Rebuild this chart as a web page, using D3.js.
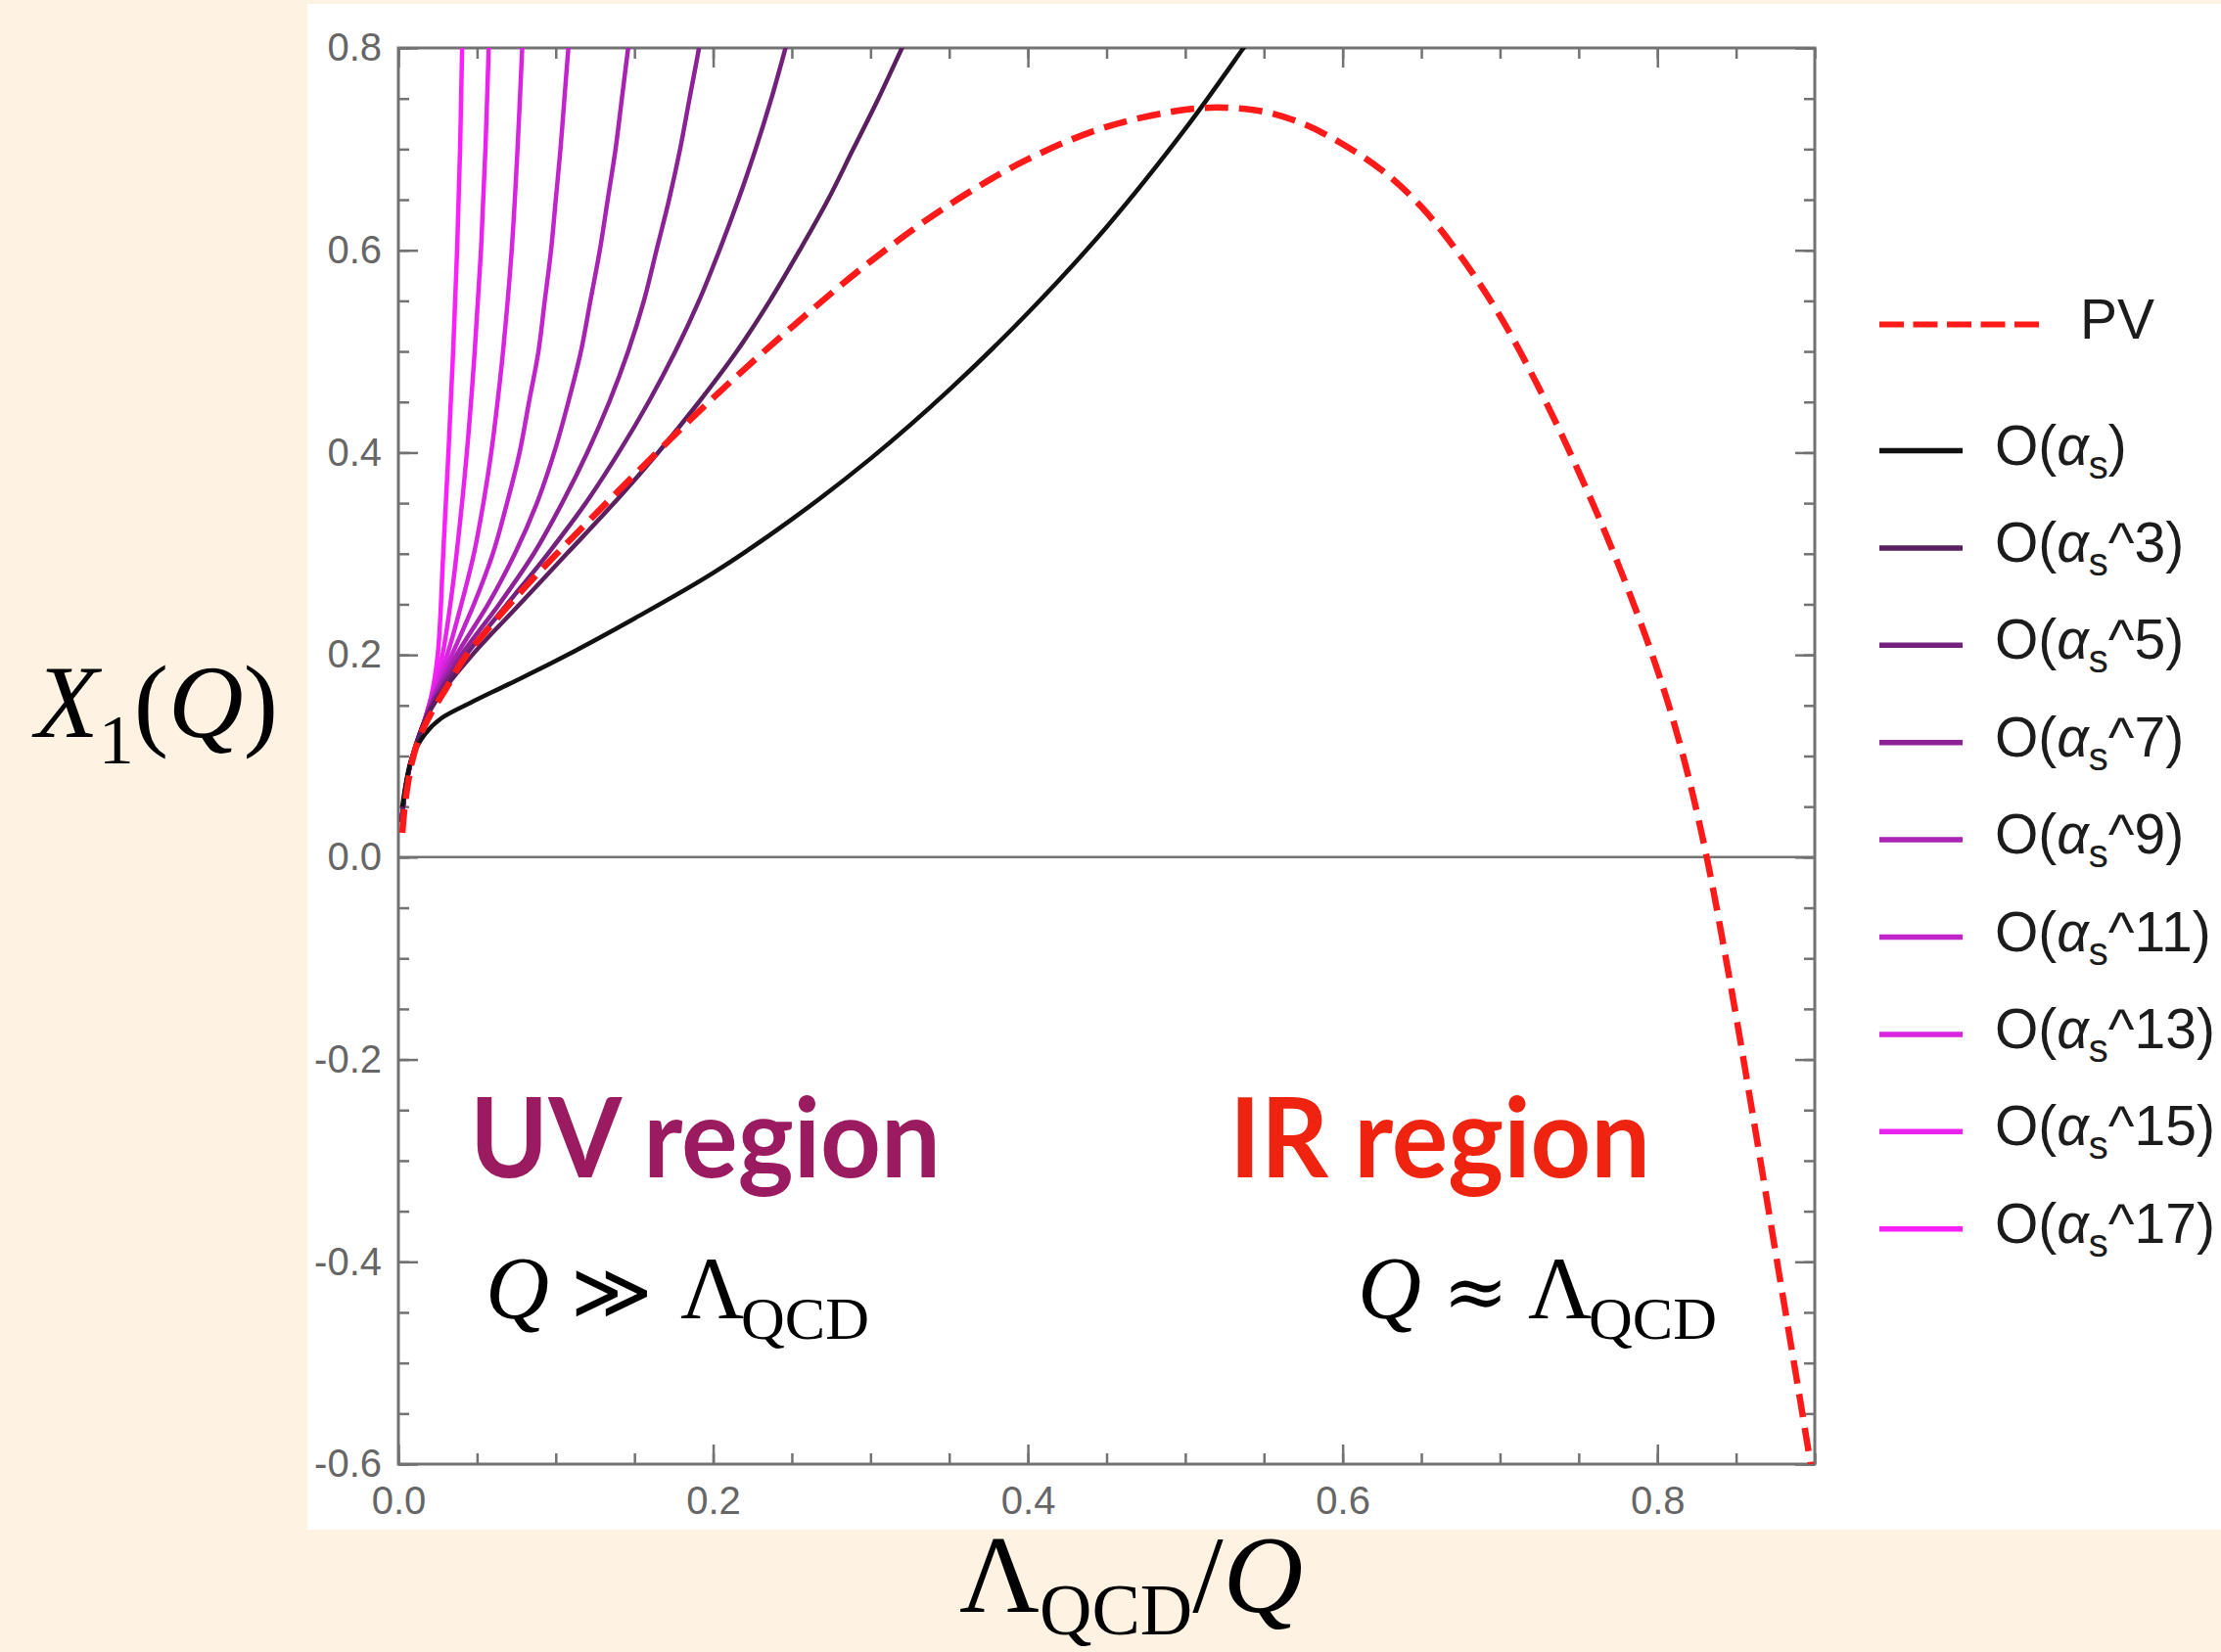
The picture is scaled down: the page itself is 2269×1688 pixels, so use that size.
<!DOCTYPE html>
<html>
<head>
<meta charset="utf-8">
<script src="https://cdn.jsdelivr.net/npm/d3@7"></script>
<style>
body { margin: 0; background: #fef3e2; }
</style>
</head>
<body>
<div id="chart"></div>
<script>
// tick labels
var xTicks = [0, 0.2, 0.4, 0.6, 0.8];
var yTicks = [-0.6, -0.4, -0.2, 0, 0.2, 0.4, 0.6, 0.8];

// perturbative orders shown in the legend
var orders = [1, 3, 5, 7, 9, 11, 13, 15, 17];

// principal value curve, [Lambda/Q, X1]
var pvCurve = [[0.0025, 0.024], [0.004, 0.05], [0.006, 0.072], [0.0086, 0.094], [0.013, 0.117],
    [0.02, 0.14], [0.03, 0.166], [0.0425, 0.198], [0.06, 0.231], [0.08, 0.266], [0.1, 0.299],
    [0.15, 0.378], [0.2, 0.454], [0.25, 0.524], [0.3, 0.589], [0.35, 0.645], [0.4, 0.69],
    [0.45, 0.722], [0.5, 0.739], [0.525, 0.741], [0.55, 0.737], [0.575, 0.725], [0.6, 0.705],
    [0.625, 0.679], [0.65, 0.643], [0.675, 0.594], [0.7, 0.535], [0.725, 0.463], [0.75, 0.381],
    [0.775, 0.29], [0.8, 0.185], [0.815, 0.108], [0.83, 0.01], [0.845, -0.113], [0.86, -0.249],
    [0.875, -0.39], [0.89, -0.53], [0.9, -0.625]];

// truncated series
var order1 = [[0.0025, 0.05], [0.005, 0.075], [0.0086, 0.0986], [0.017, 0.122], [0.027, 0.137],
    [0.045, 0.152], [0.07, 0.171], [0.1, 0.194], [0.15, 0.236], [0.2, 0.281], [0.25, 0.334],
    [0.3, 0.394], [0.35, 0.462], [0.4, 0.538], [0.45, 0.623], [0.5, 0.72], [0.537, 0.8], [0.546, 0.82]];
var order3 = [[0.002, 0.035], [0.004, 0.062], [0.007, 0.088], [0.011, 0.11], [0.016, 0.132], [0.024, 0.155],
    [0.047, 0.2], [0.077, 0.25], [0.107, 0.3], [0.137, 0.35], [0.165, 0.4], [0.191, 0.45], [0.215, 0.5],
    [0.236, 0.55], [0.255, 0.6], [0.273, 0.65], [0.289, 0.7], [0.305, 0.75], [0.32, 0.8], [0.326, 0.82]];
var order5 = [[0.002, 0.035], [0.004, 0.062], [0.007, 0.088], [0.011, 0.11], [0.016, 0.132], [0.023, 0.155],
    [0.043, 0.2], [0.069, 0.25], [0.095, 0.3], [0.119, 0.35], [0.14, 0.4], [0.159, 0.45], [0.176, 0.5],
    [0.191, 0.55], [0.204, 0.6], [0.216, 0.65], [0.227, 0.7], [0.237, 0.75], [0.246, 0.8], [0.2495, 0.82]];
var order7 = [[0.002, 0.035], [0.004, 0.062], [0.007, 0.088], [0.011, 0.11], [0.016, 0.132], [0.023, 0.156],
    [0.04, 0.2], [0.064, 0.25], [0.086, 0.3], [0.104, 0.35], [0.12, 0.4], [0.134, 0.45], [0.146, 0.5],
    [0.156, 0.55], [0.164, 0.6], [0.172, 0.65], [0.179, 0.7], [0.185, 0.75], [0.191, 0.8], [0.193, 0.82]];
var order9 = [[0.002, 0.035], [0.004, 0.062], [0.007, 0.088], [0.011, 0.11], [0.016, 0.132], [0.022, 0.156],
    [0.037, 0.2], [0.057, 0.25], [0.074, 0.3], [0.088, 0.35], [0.099, 0.4], [0.108, 0.45], [0.116, 0.5],
    [0.122, 0.55], [0.128, 0.6], [0.133, 0.65], [0.138, 0.7], [0.142, 0.75], [0.146, 0.8], [0.1475, 0.82]];
var order11 = [[0.002, 0.035], [0.004, 0.062], [0.007, 0.088], [0.011, 0.11], [0.016, 0.132], [0.022, 0.157],
    [0.034, 0.2], [0.048, 0.25], [0.06, 0.3], [0.069, 0.35], [0.077, 0.4], [0.083, 0.45], [0.089, 0.5],
    [0.093, 0.55], [0.097, 0.6], [0.1, 0.65], [0.103, 0.7], [0.1055, 0.75], [0.108, 0.8], [0.109, 0.82]];
var order13 = [[0.002, 0.035], [0.004, 0.062], [0.007, 0.088], [0.011, 0.11], [0.016, 0.132], [0.021, 0.157],
    [0.031, 0.2], [0.04, 0.25], [0.048, 0.3], [0.054, 0.35], [0.059, 0.4], [0.063, 0.45], [0.0665, 0.5],
    [0.072, 0.6], [0.0757, 0.7], [0.0787, 0.8], [0.0795, 0.82]];
var order15 = [[0.002, 0.035], [0.004, 0.062], [0.007, 0.088], [0.011, 0.11], [0.016, 0.132], [0.021, 0.158],
    [0.028, 0.2], [0.033, 0.25], [0.037, 0.3], [0.0435, 0.4], [0.0485, 0.5], [0.0525, 0.6], [0.0553, 0.7],
    [0.0574, 0.8], [0.058, 0.82]];
var order17 = [[0.002, 0.035], [0.004, 0.062], [0.007, 0.088], [0.011, 0.11], [0.016, 0.132], [0.021, 0.16],
    [0.025, 0.2], [0.0285, 0.3], [0.0318, 0.4], [0.0348, 0.5], [0.0373, 0.6], [0.0392, 0.7], [0.0405, 0.8],
    [0.041, 0.82]];

var seriesData = [order1, order3, order5, order7, order9, order11, order13, order15, order17];
var seriesColors = ["#111111", "#5a1f5f", "#74217d", "#8d2297", "#a823b1", "#c224cb", "#d824de", "#ea22ee", "#fb20fb"];

var svg;
var chartGroup;
var xScale;
var yScale;

var margin = {
    top: 49,
    right: 415,
    bottom: 192,
    left: 407
};

var canvas = {
    screenHeight: 1688,
    screenWidth: 2269,
    chartHeight: 0,
    chartWidth: 0
};

var tickColor = "#727272";

function setCanvas() {
    canvas.chartHeight = canvas.screenHeight - margin.top - margin.bottom;
    canvas.chartWidth = canvas.screenWidth - margin.left - margin.right;

    svg = d3.select("#chart").append("svg")
        .attr("width", canvas.screenWidth)
        .attr("height", canvas.screenHeight)
        .style("display", "block");

    // beige page with the white plot panel on it
    svg.append("rect")
        .attr("width", canvas.screenWidth)
        .attr("height", canvas.screenHeight)
        .attr("fill", "#fef3e2");
    svg.append("rect")
        .attr("x", 314)
        .attr("y", 4)
        .attr("width", canvas.screenWidth - 314)
        .attr("height", 1559)
        .attr("fill", "#ffffff");

    chartGroup = svg.append("g")
        .attr("transform", `translate(${margin.left}, ${margin.top})`);

    chartGroup.append("clipPath")
        .attr("id", "plotClip")
        .append("rect")
        .attr("width", canvas.chartWidth)
        .attr("height", canvas.chartHeight);
}

function styleAxis(g) {
    g.select(".domain").remove();
    g.selectAll("line")
        .attr("stroke", tickColor)
        .attr("stroke-width", 2.5);
    g.selectAll("text")
        .attr("fill", "#666666")
        .style("font-family", "'Liberation Sans', Arial, sans-serif")
        .style("font-size", "40px");
}

function setAxis() {
    xScale = d3.scaleLinear()
        .domain([0, 0.9])
        .range([0, canvas.chartWidth]);
    yScale = d3.scaleLinear()
        .domain([-0.6, 0.8])
        .range([canvas.chartHeight, 0]);

    var xMinor = d3.range(0, 0.9001, 0.05);
    var yMinor = d3.range(-0.6, 0.8001, 0.05);
    var fmt = d => d.toFixed(1);

    // zero line
    chartGroup.append("line")
        .attr("x1", 0)
        .attr("x2", canvas.chartWidth)
        .attr("y1", yScale(0))
        .attr("y2", yScale(0))
        .attr("stroke", tickColor)
        .attr("stroke-width", 2.5);

    // bottom
    chartGroup.append("g")
        .attr("transform", `translate(0, ${canvas.chartHeight})`)
        .call(d3.axisBottom(xScale).tickValues(xMinor).tickSizeInner(-11).tickSizeOuter(0).tickFormat(""))
        .call(styleAxis);
    chartGroup.append("g")
        .attr("transform", `translate(0, ${canvas.chartHeight})`)
        .call(d3.axisBottom(xScale).tickValues(xTicks).tickSizeInner(-20).tickSizeOuter(0).tickPadding(23).tickFormat(fmt))
        .call(styleAxis);

    // top
    chartGroup.append("g")
        .call(d3.axisTop(xScale).tickValues(xMinor).tickSizeInner(-11).tickSizeOuter(0).tickFormat(""))
        .call(styleAxis);
    chartGroup.append("g")
        .call(d3.axisTop(xScale).tickValues(xTicks).tickSizeInner(-20).tickSizeOuter(0).tickFormat(""))
        .call(styleAxis);

    // left
    chartGroup.append("g")
        .call(d3.axisLeft(yScale).tickValues(yMinor).tickSizeInner(-11).tickSizeOuter(0).tickFormat(""))
        .call(styleAxis);
    chartGroup.append("g")
        .call(d3.axisLeft(yScale).tickValues(yTicks).tickSizeInner(-20).tickSizeOuter(0).tickPadding(17).tickFormat(fmt))
        .call(styleAxis);

    // right
    chartGroup.append("g")
        .attr("transform", `translate(${canvas.chartWidth}, 0)`)
        .call(d3.axisRight(yScale).tickValues(yMinor).tickSizeInner(-11).tickSizeOuter(0).tickFormat(""))
        .call(styleAxis);
    chartGroup.append("g")
        .attr("transform", `translate(${canvas.chartWidth}, 0)`)
        .call(d3.axisRight(yScale).tickValues(yTicks).tickSizeInner(-20).tickSizeOuter(0).tickFormat(""))
        .call(styleAxis);

    // frame
    chartGroup.append("rect")
        .attr("width", canvas.chartWidth)
        .attr("height", canvas.chartHeight)
        .attr("fill", "none")
        .attr("stroke", tickColor)
        .attr("stroke-width", 3);
}

function createChart() {
    var line = d3.line()
        .x(d => xScale(d[0]))
        .y(d => yScale(d[1]))
        .curve(d3.curveCatmullRom.alpha(0.5));

    var curves = chartGroup.append("g")
        .attr("clip-path", "url(#plotClip)");

    // highest order first so the black one sits on top
    for (var i = seriesData.length - 1; i >= 0; i--) {
        curves.append("path")
            .attr("d", line(seriesData[i]))
            .attr("fill", "none")
            .attr("stroke", seriesColors[i])
            .attr("stroke-width", 4.5);
    }

    curves.append("path")
        .attr("d", line(pvCurve))
        .attr("fill", "none")
        .attr("stroke", "#ff1a1a")
        .attr("stroke-width", 6.5)
        .attr("stroke-dasharray", "24,11");
}

function createLegend() {
    var legend = svg.append("g")
        .style("font-family", "'Liberation Sans', Arial, sans-serif")
        .style("font-size", "57px")
        .attr("fill", "#1c1c1c");

    legend.append("line")
        .attr("x1", 1920).attr("x2", 2085)
        .attr("y1", 331.5).attr("y2", 331.5)
        .attr("stroke", "#ff1a1a")
        .attr("stroke-width", 6)
        .attr("stroke-dasharray", "25,9.5");
    legend.append("text")
        .attr("x", 2125)
        .attr("y", 331.5 + 14)
        .text("PV");

    orders.forEach(function (o, i) {
        var y = 460.5 + i * 99.4;
        legend.append("line")
            .attr("x1", 1920).attr("x2", 2005)
            .attr("y1", y).attr("y2", y)
            .attr("stroke", seriesColors[i])
            .attr("stroke-width", 5.5);
        var t = legend.append("text")
            .attr("x", 2038)
            .attr("y", y + 14);
        t.append("tspan").text("O(");
        t.append("tspan").attr("font-style", "italic").text("α");
        t.append("tspan").attr("font-size", "40px").attr("dy", 14).text("s");
        t.append("tspan").attr("dy", -14).text((o > 1 ? "^" + o : "") + ")");
    });
}

function createLabels() {
    var serif = "'Liberation Serif', 'Times New Roman', serif";

    // y axis title
    var yt = svg.append("text")
        .attr("x", 36)
        .attr("y", 753)
        .style("font-family", serif)
        .style("font-size", "106px")
        .attr("fill", "#000");
    yt.append("tspan").attr("font-style", "italic").text("X");
    yt.append("tspan").attr("font-size", "72px").attr("dy", 27).text("1");
    yt.append("tspan").attr("dy", -27).text("(");
    yt.append("tspan").attr("font-style", "italic").text("Q");
    yt.append("tspan").text(")");

    // x axis title
    var xt = svg.append("text")
        .attr("x", 980)
        .attr("y", 1647)
        .style("font-family", serif)
        .style("font-size", "113px")
        .attr("fill", "#000");
    xt.append("tspan").text("Λ");
    xt.append("tspan").attr("font-size", "74px").attr("dy", 23).text("QCD");
    xt.append("tspan").attr("dy", -23).text("/");
    xt.append("tspan").attr("font-style", "italic").text("Q");

    // region captions
    svg.append("text")
        .attr("x", 480)
        .attr("y", 1203)
        .attr("textLength", 481)
        .attr("lengthAdjust", "spacingAndGlyphs")
        .style("font-family", "Lato, 'Open Sans', sans-serif")
        .style("font-weight", "bold")
        .style("font-size", "113px")
        .attr("fill", "#9b1b60")
        .text("UV region");
    svg.append("text")
        .attr("x", 1256)
        .attr("y", 1203)
        .attr("textLength", 430)
        .attr("lengthAdjust", "spacingAndGlyphs")
        .style("font-family", "Lato, 'Open Sans', sans-serif")
        .style("font-weight", "bold")
        .style("font-size", "113px")
        .attr("fill", "#ef2410")
        .text("IR region");

    // scale relations
    var rel = [
        { x: [496, 583, 695, 757], sym: "≫" },
        { x: [1387, 1474, 1561, 1623], sym: "≈" }
    ];
    rel.forEach(function (r) {
        var t = svg.append("text")
            .attr("y", 1347)
            .style("font-family", serif)
            .style("font-size", "90px")
            .attr("fill", "#000");
        t.append("tspan").attr("x", r.x[0]).attr("font-style", "italic").text("Q");
        t.append("tspan").attr("x", r.x[1]).style("font-family", "'DejaVu Serif', serif").style("font-size", "80px").text(r.sym);
        t.append("tspan").attr("x", r.x[2]).text("Λ");
        t.append("tspan").attr("x", r.x[3]).attr("dy", 21).attr("font-size", "62px").text("QCD");
    });
}

setCanvas();
setAxis();
createChart();
createLegend();
createLabels();
</script>
</body>
</html>
